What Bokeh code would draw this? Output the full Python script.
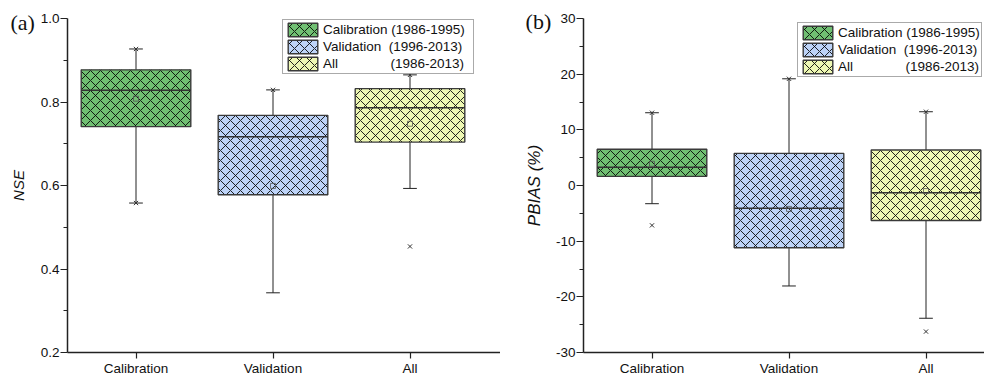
from bokeh.plotting import figure
from bokeh.layouts import row
from bokeh.models import (FixedTicker, PrintfTickFormatter, Legend, LegendItem,
                          Label, Range1d, ColumnDataSource)
from bokeh.embed import file_html
from bokeh.resources import INLINE

# ---------------- data ----------------
groups = ["Calibration", "Validation", "All"]
legend_labels_a = ["Calibration\u00a0(1986-1995)\u00a0\u00a0",
                   "Validation\u00a0\u00a0(1996-2013)\u00a0\u00a0",
                   "All" + "\u00a0" * 14 + "(1986-2013)\u00a0\u00a0"]
legend_labels_b = ["Calibration\u00a0(1986-1995)",
                   "Validation\u00a0\u00a0(1996-2013)",
                   "All" + "\u00a0" * 14 + "(1986-2013)"]
fill_colors = ["#70BF72", "#BDD3F7", "#EEF8B4"]

# (a) NSE
nse_q1 = [0.741, 0.578, 0.704]
nse_median = [0.828, 0.717, 0.786]
nse_q3 = [0.877, 0.768, 0.832]
nse_low = [0.558, 0.343, 0.593]
nse_high = [0.927, 0.829, 0.865]
nse_mean = [0.808, 0.599, 0.748]
nse_cross_group = ["Calibration", "Calibration", "Validation", "All", "All"]
nse_cross = [0.927, 0.558, 0.829, 0.865, 0.454]
nse_ticks = [0.2, 0.4, 0.6, 0.8, 1.0]
nse_minor = [0.3, 0.5, 0.7, 0.9]

# (b) PBIAS (%)
pb_q1 = [1.64, -11.17, -6.3]
pb_median = [3.3, -4.1, -1.3]
pb_q3 = [6.5, 5.77, 6.37]
pb_low = [-3.27, -18.05, -23.85]
pb_high = [13.07, 19.17, 13.25]
pb_mean = [3.9, -4.2, -1.0]
pb_cross_group = ["Calibration", "Calibration", "Validation", "All", "All"]
pb_cross = [13.07, -7.16, 19.17, 13.25, -26.24]
pb_ticks = [-30, -20, -10, 0, 10, 20, 30]
pb_minor = [-25, -15, -5, 5, 15, 25]

FONT = "Liberation Sans"
BOX_W = 0.8
CAP_W = 0.1
PX_X = 137.0          # pixels per category step
HEIGHT = 378
AXIS_TOP = 18         # pixel row of the top y tick
AXIS_BOT = 352        # pixel row of the x axis


def make_panel(q1, med, q3, low, high, mean, cross_group, cross, ticks, minor,
               yfmt, ylabel, ylabel_size, label_standoff, tag, tag_xy, width,
               axis_px, legend_labels, legend_loc):
    xpos = {g: i + 1 for i, g in enumerate(groups)}
    xs = [xpos[g] for g in groups]
    x_start = 0.5 - axis_px / PX_X
    x_end = x_start + width / PX_X
    y_lo, y_hi = ticks[0], ticks[-1]
    per_px = (y_hi - y_lo) / (AXIS_BOT - AXIS_TOP)
    y_top = y_hi + AXIS_TOP * per_px
    y_bot = y_lo - (HEIGHT - AXIS_BOT) * per_px
    p = figure(width=width, height=HEIGHT, output_backend="svg", toolbar_location=None,
               x_range=Range1d(x_start, x_end), y_range=Range1d(y_bot, y_top),
               min_border_left=0, min_border_right=0,
               min_border_top=0, min_border_bottom=0)
    p.outline_line_color = None
    p.grid.visible = False
    p.background_fill_color = "white"
    p.border_fill_color = "white"

    src = ColumnDataSource(dict(
        x=xs, q1=q1, med=med, q3=q3, low=low, high=high, mean=mean,
        color=fill_colors,
        x0=[x - BOX_W / 2 for x in xs], x1=[x + BOX_W / 2 for x in xs],
        c0=[x - CAP_W / 2 for x in xs], c1=[x + CAP_W / 2 for x in xs]))

    # whiskers
    wkw = dict(source=src, line_color="#222222", line_width=1)
    p.segment("x", "q3", "x", "high", **wkw)
    p.segment("x", "q1", "x", "low", **wkw)
    p.segment("c0", "high", "c1", "high", **wkw)
    p.segment("c0", "low", "c1", "low", **wkw)

    boxes = p.vbar(x="x", width=BOX_W, top="q3", bottom="q1", source=src,
                   fill_color="color", line_color="#3a3a3a", line_width=1.4,
                   hatch_pattern="diagonal_cross", hatch_scale=10,
                   hatch_weight=1, hatch_color="black", hatch_alpha=0.85)
    p.segment("x0", "med", "x1", "med", source=src, line_color="#333333", line_width=1.5)
    p.scatter("x", "mean", source=src, marker="square", size=5, fill_color=None,
              line_color="#555555", line_width=0.8)
    p.scatter([xpos[g] for g in cross_group], cross, marker="x", size=6,
              line_color="#333333", line_width=1)

    # axes (drawn at fixed data positions so that nothing is cut by the frame)
    p.xaxis.ticker = FixedTicker(ticks=xs)
    p.xaxis.major_label_overrides = {x: g for x, g in zip(xs, groups)}
    p.xaxis.major_tick_out = 6
    p.xaxis.bounds = (0.5, x_end)
    p.xaxis.fixed_location = y_lo
    p.yaxis.ticker = FixedTicker(ticks=ticks, minor_ticks=minor)
    p.yaxis.formatter = PrintfTickFormatter(format=yfmt)
    p.yaxis.major_tick_out = 7
    p.yaxis.minor_tick_out = 4
    p.yaxis.bounds = (y_lo, y_hi)
    p.yaxis.fixed_location = 0.5
    for ax in (p.xaxis[0], p.yaxis[0]):
        ax.axis_line_color = "#222222"
        ax.axis_line_width = 1.5
        ax.major_tick_line_color = "#222222"
        ax.major_tick_line_width = 1.2
        ax.minor_tick_line_width = 1.2
        ax.major_tick_in = 0
        ax.minor_tick_in = 0
        ax.major_label_text_font = FONT
        ax.major_label_text_font_size = "13.5px"
        ax.major_label_text_color = "#111111"
    p.xaxis.minor_tick_line_color = None
    p.yaxis.minor_tick_line_color = "#222222"
    p.xaxis.major_label_standoff = 2
    p.yaxis.major_label_standoff = 1
    p.yaxis.axis_label = ylabel
    p.yaxis.axis_label_text_font = FONT
    p.yaxis.axis_label_text_font_style = "italic"
    p.yaxis.axis_label_text_font_size = ylabel_size
    p.yaxis.axis_label_text_color = "#111111"
    p.yaxis.axis_label_standoff = label_standoff

    items = [LegendItem(label=lab, renderers=[boxes], index=i)
             for i, lab in enumerate(legend_labels)]
    leg = Legend(items=items, location=legend_loc, padding=1, spacing=0,
                 glyph_width=37, glyph_height=17, label_height=17, label_standoff=2,
                 label_text_font=FONT, label_text_font_size="13.5px",
                 label_text_color="#111111",
                 border_line_color="#555555", border_line_width=1,
                 background_fill_color="white", background_fill_alpha=1, margin=0)
    p.add_layout(leg)

    p.add_layout(Label(x=tag_xy[0], y=tag_xy[1], text=tag,
                       text_font="Liberation Serif", text_font_size="22px",
                       text_color="#111111", text_baseline="alphabetic"))
    return p


pa = make_panel(nse_q1, nse_median, nse_q3, nse_low, nse_high, nse_mean,
                nse_cross_group, nse_cross, nse_ticks, nse_minor, "%.1f",
                "NSE", "15px", 11, "(a)", (0.084, 0.991), 500, 67,
                legend_labels_a, (282, 278 + 26))
pb = make_panel(pb_q1, pb_median, pb_q3, pb_low, pb_high, pb_mean,
                pb_cross_group, pb_cross, pb_ticks, pb_minor, "%d",
                "PBIAS (%)", "17px", 9, "(b)", (0.077, 29.5), 484, 83,
                legend_labels_b, (297, 275 + 26))

layout = row(pa, pb)
open("out.html", "w").write(file_html(layout, INLINE))
